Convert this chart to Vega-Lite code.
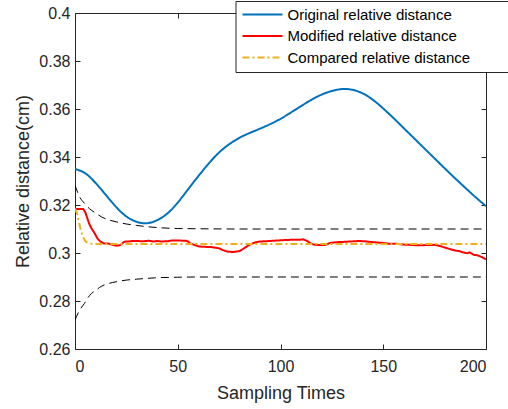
{
  "$schema": "https://vega.github.io/schema/vega-lite/v6.json",
  "width": 411,
  "height": 336,
  "autosize": {"type": "none"},
  "padding": {"left": 75, "top": 13, "right": 22, "bottom": 60},
  "background": "white",
  "config": {
    "font": "Liberation Sans",
    "view": {"stroke": null},
    "axis": {
      "grid": false,
      "domainColor": "#262626",
      "tickColor": "#262626",
      "labelColor": "#262626",
      "titleColor": "#262626",
      "labelFont": "Liberation Sans",
      "titleFont": "Liberation Sans",
      "labelFontSize": 16,
      "titleFontSize": 18,
      "titleFontWeight": "normal",
      "tickSize": -5,
      "domainWidth": 1,
      "tickWidth": 1
    },
    "legend": {
      "labelLimit": 400
    }
  },
  "datasets": {
    "bounds": [
      {"s": "upper", "x": 0, "y": 0.3283}, {"s": "upper", "x": 2, "y": 0.3238}, {"s": "upper", "x": 4.6, "y": 0.3207},
      {"s": "upper", "x": 7, "y": 0.3185}, {"s": "upper", "x": 10.3, "y": 0.3165}, {"s": "upper", "x": 13, "y": 0.315},
      {"s": "upper", "x": 16.8, "y": 0.3137}, {"s": "upper", "x": 20, "y": 0.313}, {"s": "upper", "x": 24.9, "y": 0.3121},
      {"s": "upper", "x": 30, "y": 0.3115}, {"s": "upper", "x": 34.6, "y": 0.311}, {"s": "upper", "x": 40, "y": 0.3106},
      {"s": "upper", "x": 50, "y": 0.3102}, {"s": "upper", "x": 60, "y": 0.3101}, {"s": "upper", "x": 80, "y": 0.31},
      {"s": "upper", "x": 200, "y": 0.31},
      {"s": "lower", "x": 0, "y": 0.2721}, {"s": "lower", "x": 2, "y": 0.2758}, {"s": "lower", "x": 4.6, "y": 0.279},
      {"s": "lower", "x": 7, "y": 0.2822}, {"s": "lower", "x": 10.3, "y": 0.2846}, {"s": "lower", "x": 13, "y": 0.2862},
      {"s": "lower", "x": 16.8, "y": 0.2874}, {"s": "lower", "x": 20, "y": 0.288}, {"s": "lower", "x": 24.9, "y": 0.2887},
      {"s": "lower", "x": 30, "y": 0.2891}, {"s": "lower", "x": 34.6, "y": 0.2894}, {"s": "lower", "x": 40, "y": 0.2897},
      {"s": "lower", "x": 50, "y": 0.2899}, {"s": "lower", "x": 60, "y": 0.29}, {"s": "lower", "x": 200, "y": 0.29}
    ],
    "series": [
      {"s": "Original relative distance", "x": 0, "y": 0.335}, {"s": "Original relative distance", "x": 5, "y": 0.3332},
      {"s": "Original relative distance", "x": 10, "y": 0.3292}, {"s": "Original relative distance", "x": 15, "y": 0.3242},
      {"s": "Original relative distance", "x": 20, "y": 0.3192}, {"s": "Original relative distance", "x": 25, "y": 0.3152},
      {"s": "Original relative distance", "x": 30, "y": 0.313}, {"s": "Original relative distance", "x": 35, "y": 0.3124},
      {"s": "Original relative distance", "x": 40, "y": 0.3137}, {"s": "Original relative distance", "x": 45, "y": 0.3165},
      {"s": "Original relative distance", "x": 50, "y": 0.321}, {"s": "Original relative distance", "x": 55, "y": 0.3265},
      {"s": "Original relative distance", "x": 60, "y": 0.332}, {"s": "Original relative distance", "x": 65, "y": 0.3372},
      {"s": "Original relative distance", "x": 70, "y": 0.3418}, {"s": "Original relative distance", "x": 75, "y": 0.3453},
      {"s": "Original relative distance", "x": 80, "y": 0.348}, {"s": "Original relative distance", "x": 85, "y": 0.35},
      {"s": "Original relative distance", "x": 90, "y": 0.3518}, {"s": "Original relative distance", "x": 95, "y": 0.3537},
      {"s": "Original relative distance", "x": 100, "y": 0.3559}, {"s": "Original relative distance", "x": 105, "y": 0.3585},
      {"s": "Original relative distance", "x": 110, "y": 0.3612}, {"s": "Original relative distance", "x": 115, "y": 0.3638},
      {"s": "Original relative distance", "x": 120, "y": 0.366}, {"s": "Original relative distance", "x": 125, "y": 0.3675},
      {"s": "Original relative distance", "x": 130, "y": 0.3683}, {"s": "Original relative distance", "x": 135, "y": 0.368},
      {"s": "Original relative distance", "x": 140, "y": 0.3665}, {"s": "Original relative distance", "x": 145, "y": 0.3638},
      {"s": "Original relative distance", "x": 150, "y": 0.3602}, {"s": "Original relative distance", "x": 155, "y": 0.3562},
      {"s": "Original relative distance", "x": 160, "y": 0.352}, {"s": "Original relative distance", "x": 165, "y": 0.3478},
      {"s": "Original relative distance", "x": 170, "y": 0.3436}, {"s": "Original relative distance", "x": 175, "y": 0.3394},
      {"s": "Original relative distance", "x": 180, "y": 0.3352}, {"s": "Original relative distance", "x": 185, "y": 0.3311},
      {"s": "Original relative distance", "x": 190, "y": 0.3271}, {"s": "Original relative distance", "x": 195, "y": 0.3232},
      {"s": "Original relative distance", "x": 200, "y": 0.3195}
    ],
    "noisy": [
      {"s": "Modified relative distance", "x": 0, "y": 0.3183}, {"s": "Modified relative distance", "x": 4, "y": 0.3183},
      {"s": "Modified relative distance", "x": 5, "y": 0.317}, {"s": "Modified relative distance", "x": 6, "y": 0.3145},
      {"s": "Modified relative distance", "x": 7, "y": 0.312}, {"s": "Modified relative distance", "x": 8, "y": 0.3103},
      {"s": "Modified relative distance", "x": 9, "y": 0.309}, {"s": "Modified relative distance", "x": 10, "y": 0.3075},
      {"s": "Modified relative distance", "x": 11, "y": 0.306}, {"s": "Modified relative distance", "x": 12, "y": 0.305},
      {"s": "Modified relative distance", "x": 13, "y": 0.3045}, {"s": "Modified relative distance", "x": 14, "y": 0.304},
      {"s": "Modified relative distance", "x": 16, "y": 0.304}, {"s": "Modified relative distance", "x": 18, "y": 0.3035},
      {"s": "Modified relative distance", "x": 20, "y": 0.303}, {"s": "Modified relative distance", "x": 22, "y": 0.3033},
      {"s": "Modified relative distance", "x": 23, "y": 0.304}, {"s": "Modified relative distance", "x": 24, "y": 0.3047},
      {"s": "Modified relative distance", "x": 26, "y": 0.3048}, {"s": "Modified relative distance", "x": 28, "y": 0.305},
      {"s": "Modified relative distance", "x": 30, "y": 0.305}, {"s": "Modified relative distance", "x": 33, "y": 0.3049},
      {"s": "Modified relative distance", "x": 36, "y": 0.3051}, {"s": "Modified relative distance", "x": 38, "y": 0.3048},
      {"s": "Modified relative distance", "x": 40, "y": 0.305}, {"s": "Modified relative distance", "x": 42, "y": 0.3048},
      {"s": "Modified relative distance", "x": 45, "y": 0.3049}, {"s": "Modified relative distance", "x": 47, "y": 0.3052},
      {"s": "Modified relative distance", "x": 50, "y": 0.3052}, {"s": "Modified relative distance", "x": 54, "y": 0.3051},
      {"s": "Modified relative distance", "x": 55, "y": 0.3048}, {"s": "Modified relative distance", "x": 56, "y": 0.304},
      {"s": "Modified relative distance", "x": 58, "y": 0.3034}, {"s": "Modified relative distance", "x": 60, "y": 0.3028},
      {"s": "Modified relative distance", "x": 62, "y": 0.3026}, {"s": "Modified relative distance", "x": 66, "y": 0.3025},
      {"s": "Modified relative distance", "x": 70, "y": 0.302}, {"s": "Modified relative distance", "x": 72, "y": 0.3012},
      {"s": "Modified relative distance", "x": 74, "y": 0.3006}, {"s": "Modified relative distance", "x": 77, "y": 0.3004},
      {"s": "Modified relative distance", "x": 80, "y": 0.3008}, {"s": "Modified relative distance", "x": 82, "y": 0.3018},
      {"s": "Modified relative distance", "x": 85, "y": 0.3035}, {"s": "Modified relative distance", "x": 88, "y": 0.3045},
      {"s": "Modified relative distance", "x": 90, "y": 0.3048}, {"s": "Modified relative distance", "x": 95, "y": 0.305},
      {"s": "Modified relative distance", "x": 100, "y": 0.3053}, {"s": "Modified relative distance", "x": 105, "y": 0.3055},
      {"s": "Modified relative distance", "x": 109, "y": 0.3055}, {"s": "Modified relative distance", "x": 111, "y": 0.3057},
      {"s": "Modified relative distance", "x": 113, "y": 0.305}, {"s": "Modified relative distance", "x": 115, "y": 0.3038},
      {"s": "Modified relative distance", "x": 117, "y": 0.3034}, {"s": "Modified relative distance", "x": 120, "y": 0.3033},
      {"s": "Modified relative distance", "x": 122, "y": 0.3034}, {"s": "Modified relative distance", "x": 124, "y": 0.3042},
      {"s": "Modified relative distance", "x": 127, "y": 0.3045}, {"s": "Modified relative distance", "x": 130, "y": 0.3046},
      {"s": "Modified relative distance", "x": 134, "y": 0.3048}, {"s": "Modified relative distance", "x": 138, "y": 0.305},
      {"s": "Modified relative distance", "x": 141, "y": 0.3049}, {"s": "Modified relative distance", "x": 145, "y": 0.3045},
      {"s": "Modified relative distance", "x": 150, "y": 0.3042}, {"s": "Modified relative distance", "x": 153, "y": 0.3038},
      {"s": "Modified relative distance", "x": 156, "y": 0.3039}, {"s": "Modified relative distance", "x": 160, "y": 0.3035},
      {"s": "Modified relative distance", "x": 163, "y": 0.3034}, {"s": "Modified relative distance", "x": 167, "y": 0.3032},
      {"s": "Modified relative distance", "x": 171, "y": 0.3033}, {"s": "Modified relative distance", "x": 175, "y": 0.3034},
      {"s": "Modified relative distance", "x": 178, "y": 0.3028}, {"s": "Modified relative distance", "x": 181, "y": 0.302},
      {"s": "Modified relative distance", "x": 183, "y": 0.3015}, {"s": "Modified relative distance", "x": 185, "y": 0.301},
      {"s": "Modified relative distance", "x": 187, "y": 0.3008}, {"s": "Modified relative distance", "x": 189, "y": 0.3002},
      {"s": "Modified relative distance", "x": 191, "y": 0.2999}, {"s": "Modified relative distance", "x": 192, "y": 0.3003},
      {"s": "Modified relative distance", "x": 194, "y": 0.2993}, {"s": "Modified relative distance", "x": 196, "y": 0.299},
      {"s": "Modified relative distance", "x": 198, "y": 0.2983}, {"s": "Modified relative distance", "x": 200, "y": 0.2973},
      {"s": "Compared relative distance", "x": 0, "y": 0.3185}, {"s": "Compared relative distance", "x": 1, "y": 0.3165},
      {"s": "Compared relative distance", "x": 2, "y": 0.3125}, {"s": "Compared relative distance", "x": 3, "y": 0.309},
      {"s": "Compared relative distance", "x": 4, "y": 0.3065}, {"s": "Compared relative distance", "x": 5, "y": 0.305},
      {"s": "Compared relative distance", "x": 6, "y": 0.3043}, {"s": "Compared relative distance", "x": 8, "y": 0.3039},
      {"s": "Compared relative distance", "x": 10, "y": 0.3038}, {"s": "Compared relative distance", "x": 200, "y": 0.3038}
    ]
  },
  "layer": [
    {
      "data": {"name": "bounds"},
      "mark": {"type": "line", "color": "#000000", "strokeWidth": 1, "strokeDash": [8, 5], "interpolate": "monotone", "clip": true},
      "encoding": {
        "x": {"field": "x", "type": "quantitative", "scale": {"domain": [0, 200], "nice": false},
              "axis": {"orient": "bottom", "values": [0, 50, 100, 150, 200], "title": "Sampling Times", "labelPadding": 14, "titlePadding": 10}},
        "y": {"field": "y", "type": "quantitative", "scale": {"domain": [0.26, 0.4], "nice": false, "zero": false},
              "axis": {"orient": "left", "values": [0.26, 0.28, 0.3, 0.32, 0.34, 0.36, 0.38, 0.4], "format": "~g", "title": "Relative distance(cm)", "labelPadding": 10, "titlePadding": 6}},
        "detail": {"field": "s"}
      }
    },
    {
      "data": {"name": "series"},
      "mark": {"type": "line", "strokeWidth": 2, "interpolate": "natural", "clip": true},
      "encoding": {
        "x": {"field": "x", "type": "quantitative", "scale": {"domain": [0, 200], "nice": false},
              "axis": {"orient": "top", "values": [0, 50, 100, 150, 200], "labels": false, "title": null}},
        "y": {"field": "y", "type": "quantitative", "scale": {"domain": [0.26, 0.4], "nice": false, "zero": false},
              "axis": {"orient": "right", "values": [0.26, 0.28, 0.3, 0.32, 0.34, 0.36, 0.38, 0.4], "labels": false, "title": null}},
        "color": {"field": "s", "type": "nominal",
                  "scale": {"domain": ["Original relative distance", "Modified relative distance", "Compared relative distance"], "range": ["#0072BD", "#FF0000", "#EDB120"]},
                  "legend": {"title": null, "orient": "none", "legendX": 160.5, "legendY": -12, "strokeColor": "#262626", "fillColor": "white",
                             "padding": 6, "symbolType": "stroke", "symbolSize": 1600, "symbolStrokeWidth": 2, "labelFontSize": 15, "labelColor": "#000000",
                             "labelFont": "Liberation Sans", "labelOffset": 4, "clipHeight": 15, "rowPadding": 5.5, "labelLimit": 400,
                             "labelExpr": "datum.label + '\u2003\u2003\u2003\u200b'"}},
        "strokeDash": {"field": "s", "type": "nominal",
                  "scale": {"domain": ["Original relative distance", "Modified relative distance", "Compared relative distance"], "range": [[1, 0], [1, 0], [7, 3, 2, 3]]},
                  "legend": {"title": null, "orient": "none", "legendX": 160.5, "legendY": -12, "strokeColor": "#262626", "fillColor": "white",
                             "padding": 6, "symbolType": "stroke", "symbolSize": 1600, "symbolStrokeWidth": 2, "labelFontSize": 15, "labelColor": "#000000",
                             "labelFont": "Liberation Sans", "labelOffset": 4, "clipHeight": 15, "rowPadding": 5.5, "labelLimit": 400,
                             "labelExpr": "datum.label + '\u2003\u2003\u2003\u200b'"}}
      }
    },
    {
      "data": {"name": "noisy"},
      "mark": {"type": "line", "strokeWidth": 2, "clip": true},
      "encoding": {
        "x": {"field": "x", "type": "quantitative", "axis": null},
        "y": {"field": "y", "type": "quantitative", "axis": null},
        "color": {"field": "s", "type": "nominal"},
        "strokeDash": {"field": "s", "type": "nominal"}
      }
    }
  ],
  "resolve": {"axis": {"x": "independent", "y": "independent"}}
}
